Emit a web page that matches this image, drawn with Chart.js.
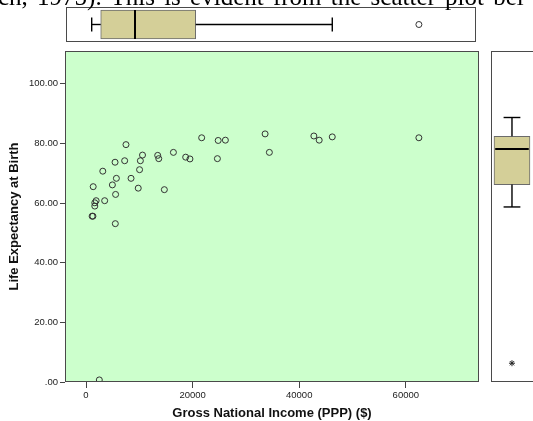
<!DOCTYPE html>
<html>
<head>
<meta charset="utf-8">
<script src="https://cdn.jsdelivr.net/npm/chart.js@4.4.1/dist/chart.umd.min.js"></script>
<style>
  html, body { margin: 0; padding: 0; background: #fff; }
  body { width: 533px; height: 421px; overflow: hidden; position: relative; }
  canvas { position: absolute; display: block; }
  #prose {
    position: absolute; left: -2px; top: -16px; white-space: nowrap; word-spacing: 3px;
    font: 25px/25px "Liberation Serif", "Times New Roman", serif; color: #000;
  }
</style>
</head>
<body>
<canvas id="gniBox" width="533" height="50" style="left:0;top:0"></canvas>
<canvas id="scatter" width="490" height="376" style="left:0;top:45px"></canvas>
<canvas id="lifeBox" width="80" height="376" style="left:485px;top:45px"></canvas>
<div id="prose">ch, 1975). This is evident from the scatter plot bel</div>
<script>
// ---- values ----
// one point per country: GNI (PPP, $) and life expectancy at birth
const gniValues = [
  7500, 10600, 13450, 13650, 16400, 5450, 7250, 10200, 3150, 10050,
  5700, 8450, 4950, 1350, 9800, 14700, 5550, 3500, 1900, 1650,
  1650, 1300, 1150, 5500, 21700, 24800, 26150, 33600, 34400, 18700,
  19500, 24650, 42750, 43750, 46200, 62450, 2500
];
const lifeValues = [
  79.6, 76.1, 76.0, 74.9, 77.0, 73.7, 74.2, 74.2, 70.7, 71.2,
  68.3, 68.3, 66.1, 65.5, 65.0, 64.5, 62.9, 60.8, 60.8, 60.1,
  59.0, 55.6, 55.6, 53.1, 81.9, 81.0, 81.1, 83.2, 77.0, 75.4,
  74.8, 74.9, 82.5, 81.1, 82.2, 81.9, 0.7
];

// marginal box plots: [lower whisker, Q1, median, Q3, upper whisker]
const gniBox = [1070, 2760, 9190, 20580, 46200];
const gniOutliers = [62450];
const lifeBox = [58.7, 66.2, 78.1, 82.4, 88.7];
const lifeExtremes = [6.3];

// axis ticks
const xTickValues = [0, 20000, 40000, 60000];
const xTickLabels = ['0', '20000', '40000', '60000'];
const yTickValues = [0, 20, 40, 60, 80, 100];
const yTickLabels = ['.00', '20.00', '40.00', '60.00', '80.00', '100.00'];

const xTitle = 'Gross National Income (PPP) ($)';
const yTitle = 'Life Expectancy at Birth';

// ---- styling ----
Chart.defaults.font.family = '"Liberation Sans", Arial, sans-serif';
Chart.defaults.animation = false;

const BOX_FILL = '#d4cf98';
const BOX_EDGE = '#6b6b6b';
const FRAME = '#4a4a4a';
const MARKER = '#333';

// background + frame around each plot area
const framePlugin = {
  id: 'frame',
  beforeDraw(chart, args, opts) {
    const { ctx, chartArea: a } = chart;
    if (opts.fill) {
      ctx.save();
      ctx.fillStyle = opts.fill;
      ctx.fillRect(a.left, a.top, a.right - a.left, a.bottom - a.top);
      ctx.restore();
    }
  },
  afterDraw(chart, args, opts) {
    const { ctx, chartArea: a } = chart;
    const l = Math.round(a.left) + 0.5, t = Math.round(a.top) + 0.5;
    const r = Math.round(a.right) - 0.5, b = Math.round(a.bottom) - 0.5;
    ctx.save();
    ctx.strokeStyle = opts.color || FRAME;
    ctx.lineWidth = 1;
    ctx.strokeRect(l, t, r - l, b - t);
    ctx.restore();
  }
};

// a plain line piece for whiskers, caps and medians
function segment(x1, y1, x2, y2, width) {
  return {
    type: 'scatter',
    data: [{ x: x1, y: y1 }, { x: x2, y: y2 }],
    showLine: true,
    borderColor: '#000',
    borderWidth: width,
    pointRadius: 0,
    clip: false
  };
}

const hiddenAxis = (min, max) => ({
  type: 'linear', display: false, min: min, max: max, offset: false,
  grid: { display: false }
});

// keep the plot area exactly where the layout padding puts it
const noLabelPadding = (s) => {
  s.paddingTop = 0; s.paddingBottom = 0; s.paddingLeft = 0; s.paddingRight = 0;
};

// ===================================
// MAIN SCATTER
// ===================================
new Chart(document.getElementById('scatter'), {
  type: 'scatter',
  data: {
    datasets: [{
      data: gniValues.map((g, i) => ({ x: g, y: lifeValues[i] })),
      pointRadius: 3,
      pointBorderWidth: 1,
      pointBorderColor: MARKER,
      pointBackgroundColor: 'rgba(0,0,0,0)',
      clip: 0
    }]
  },
  options: {
    responsive: false,
    events: [],
    layout: { padding: { top: 6, right: 11, left: 0, bottom: 0 } },
    plugins: {
      legend: { display: false },
      tooltip: { enabled: false },
      frame: { fill: '#ccffcc' }
    },
    scales: {
      x: {
        type: 'linear',
        min: -3940,
        max: 73730,
        afterBuildTicks: (s) => { s.ticks = xTickValues.map(v => ({ value: v })); },
        afterFit: (s) => { s.height = 39; noLabelPadding(s); },
        grid: { drawOnChartArea: false, drawTicks: true, tickLength: 6, color: '#444' },
        border: { display: false },
        ticks: {
          callback: (v, i) => xTickLabels[i],
          font: { size: 9.5 }, color: '#222', padding: 2,
          maxRotation: 0, autoSkip: false
        },
        title: {
          display: true, text: xTitle, color: '#111',
          font: { size: 13, weight: 'bold' }, padding: { top: 0, bottom: 0 }
        }
      },
      y: {
        type: 'linear',
        min: 0,
        max: 111,
        afterBuildTicks: (s) => { s.ticks = yTickValues.map(v => ({ value: v })); },
        afterFit: (s) => { s.width = 65; noLabelPadding(s); },
        grid: { drawOnChartArea: false, drawTicks: true, tickLength: 5, color: '#444' },
        border: { display: false },
        ticks: {
          callback: (v, i) => yTickLabels[i],
          font: { size: 9.5 }, color: '#222', padding: 2, autoSkip: false
        },
        title: {
          display: true, text: yTitle, color: '#111',
          font: { size: 13, weight: 'bold' }, padding: { top: 7, bottom: 0 }
        }
      }
    }
  },
  plugins: [framePlugin]
});

// ===================================
// TOP BOX PLOT (GNI), horizontal
// ===================================
new Chart(document.getElementById('gniBox'), {
  type: 'bar',
  data: {
    datasets: [
      {
        indexAxis: 'y',
        data: [{ y: 0, x: [gniBox[1], gniBox[3]] }],
        barThickness: 29,
        backgroundColor: BOX_FILL,
        borderColor: BOX_EDGE,
        borderWidth: 1,
        borderSkipped: false,
        order: 1
      },
      segment(gniBox[0], 0, gniBox[1], 0, 1.4),
      segment(gniBox[3], 0, gniBox[4], 0, 1.4),
      segment(gniBox[0], -7, gniBox[0], 7, 1.4),
      segment(gniBox[4], -7, gniBox[4], 7, 1.4),
      segment(gniBox[2], -14.5, gniBox[2], 14.5, 2),
      {
        type: 'scatter',
        data: gniOutliers.map(v => ({ x: v, y: 0 })),
        pointRadius: 3,
        pointBorderWidth: 1,
        pointBorderColor: MARKER,
        pointBackgroundColor: 'rgba(0,0,0,0)'
      }
    ]
  },
  options: {
    responsive: false,
    events: [],
    layout: { padding: { top: 7, bottom: 8, left: 66, right: 57 } },
    plugins: { legend: { display: false }, tooltip: { enabled: false }, frame: {} },
    scales: {
      x: hiddenAxis(-3750, 73160),
      y: hiddenAxis(-17.5, 17.5)
    }
  },
  plugins: [framePlugin]
});

// ===================================
// RIGHT BOX PLOT (life expectancy), vertical
// ===================================
const c = 22.5; // box centre on the little x axis (px units)
new Chart(document.getElementById('lifeBox'), {
  type: 'bar',
  data: {
    datasets: [
      {
        data: [{ x: c, y: [lifeBox[1], lifeBox[3]] }],
        barThickness: 36,
        backgroundColor: BOX_FILL,
        borderColor: BOX_EDGE,
        borderWidth: 1,
        borderSkipped: false,
        order: 1
      },
      segment(c, lifeBox[0], c, lifeBox[1], 1.4),
      segment(c, lifeBox[3], c, lifeBox[4], 1.4),
      segment(c - 9, lifeBox[0], c + 9, lifeBox[0], 1.4),
      segment(c - 9, lifeBox[4], c + 9, lifeBox[4], 1.4),
      segment(c - 18, lifeBox[2], c + 18, lifeBox[2], 2),
      {
        type: 'scatter',
        data: lifeExtremes.map(v => ({ x: c, y: v })),
        pointStyle: 'star',
        pointRadius: 3,
        pointBorderWidth: 1,
        pointBorderColor: '#222'
      }
    ]
  },
  options: {
    responsive: false,
    events: [],
    layout: { padding: { top: 6, bottom: 39, left: 6, right: 0 } },
    plugins: { legend: { display: false }, tooltip: { enabled: false }, frame: {} },
    scales: {
      x: hiddenAxis(0, 74),
      y: hiddenAxis(0, 111)
    }
  },
  plugins: [framePlugin]
});
</script>
</body>
</html>
